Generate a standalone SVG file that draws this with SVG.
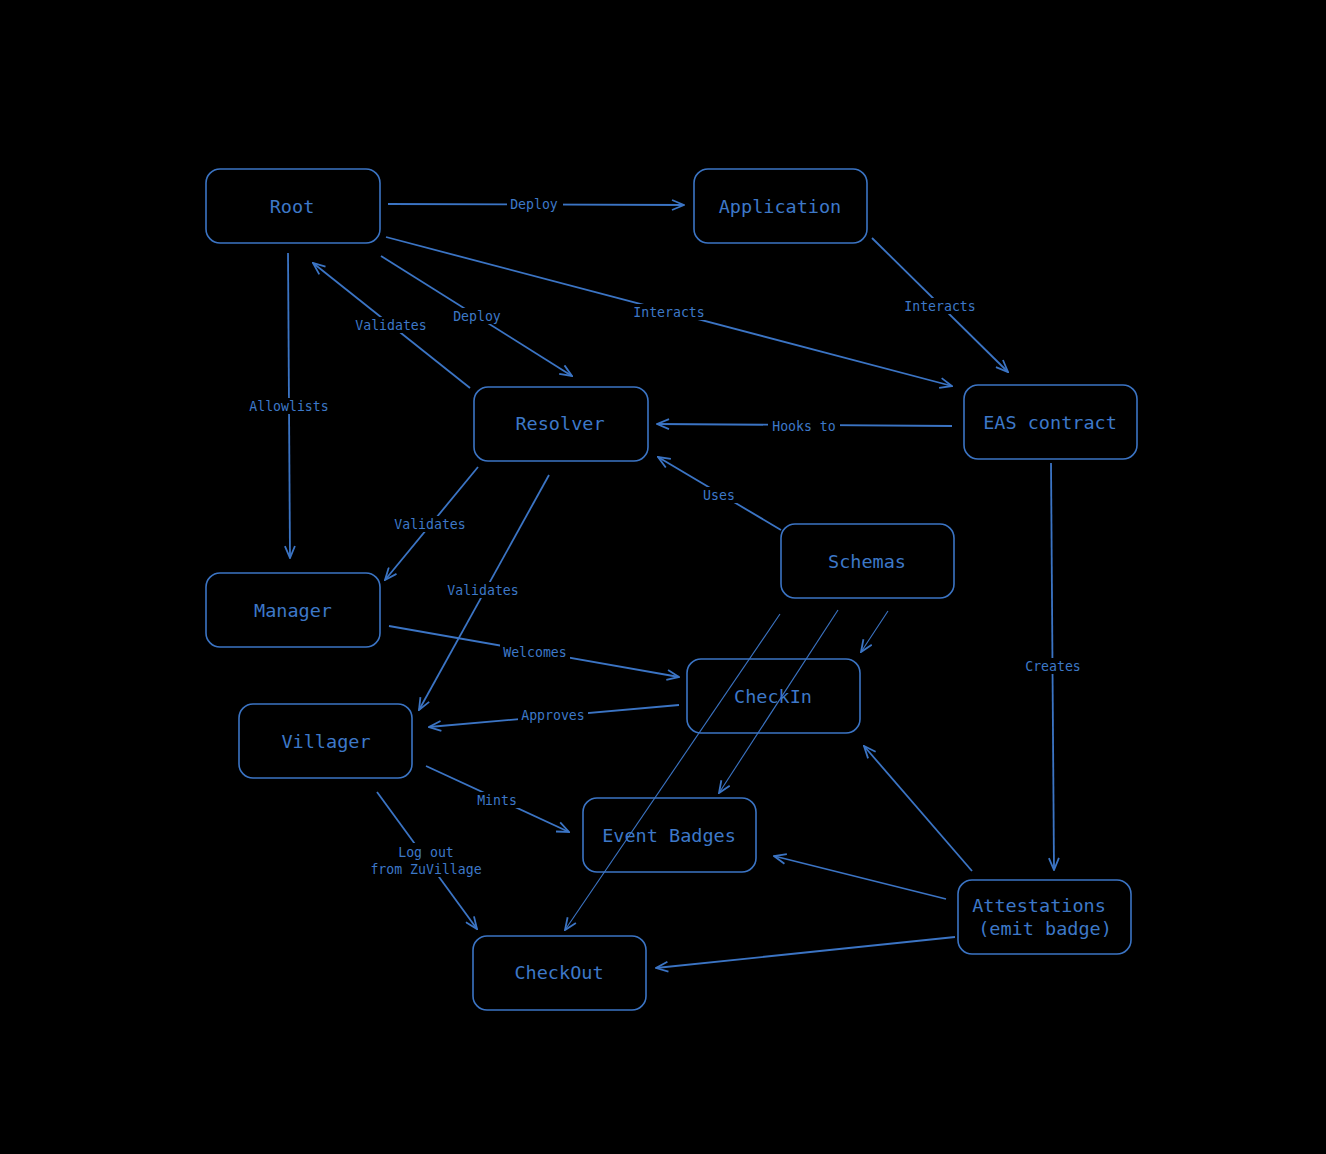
<svg xmlns="http://www.w3.org/2000/svg" width="1326" height="1154" viewBox="0 0 1326 1154">
<style>
.node rect{fill:#000;stroke:#3b74c4;stroke-width:1.6}
.node text{fill:#3d78c8;font-family:"DejaVu Sans Mono","Liberation Mono",monospace;font-size:18.5px;text-anchor:middle;dominant-baseline:central}
.c line{stroke:#3b74c4;stroke-width:1.8;fill:none}
.c line.thin{stroke-width:1.1}
.lb rect{fill:#000}
.lb text{fill:#3d78c8;font-family:"DejaVu Sans Mono","Liberation Mono",monospace;font-size:13.2px;text-anchor:middle;dominant-baseline:central}
</style>
<defs>
<marker id="ah" viewBox="0 0 14 12" markerWidth="14" markerHeight="12" refX="13" refY="6" orient="auto" markerUnits="userSpaceOnUse">
<path d="M1,1 L13,6 L1,11" fill="none" stroke="#3b74c4" stroke-width="1.8"/>
</marker>
</defs>
<rect width="1326" height="1154" fill="#000"/>
<g id="connectors" class="c">
<line x1="388" y1="204" x2="684" y2="205" marker-end="url(#ah)"/>
<line x1="386" y1="237" x2="952" y2="386" marker-end="url(#ah)"/>
<line x1="872" y1="238" x2="1008" y2="372" marker-end="url(#ah)"/>
<line x1="381" y1="256" x2="572" y2="376" marker-end="url(#ah)"/>
<line x1="470" y1="388" x2="313" y2="263" marker-end="url(#ah)"/>
<line x1="288" y1="253" x2="290" y2="558" marker-end="url(#ah)"/>
<line x1="952" y1="426" x2="657" y2="424" marker-end="url(#ah)"/>
<line x1="781" y1="530" x2="658" y2="457" marker-end="url(#ah)"/>
<line x1="478" y1="467" x2="385" y2="580" marker-end="url(#ah)"/>
<line x1="549" y1="475" x2="419" y2="710" marker-end="url(#ah)"/>
<line x1="389" y1="626" x2="679" y2="677" marker-end="url(#ah)"/>
<line x1="679" y1="705" x2="429" y2="727" marker-end="url(#ah)"/>
<line x1="1051" y1="463" x2="1054" y2="870" marker-end="url(#ah)"/>
<line class="thin" x1="888" y1="611" x2="861" y2="652" marker-end="url(#ah)"/>
<line class="thin" x1="838" y1="610" x2="719" y2="793" marker-end="url(#ah)"/>
<line class="thin" x1="780" y1="614" x2="565" y2="930" marker-end="url(#ah)"/>
<line x1="426" y1="766" x2="569" y2="832" marker-end="url(#ah)"/>
<line x1="377" y1="792" x2="477" y2="929" marker-end="url(#ah)"/>
<line x1="972" y1="871" x2="864" y2="746" marker-end="url(#ah)"/>
<line x1="946" y1="899" x2="774" y2="856" marker-end="url(#ah)"/>
<line x1="955" y1="937" x2="656" y2="968" marker-end="url(#ah)"/>
</g>
<g id="labels" class="lb">
<rect x="507" y="196" width="56" height="16"/><text x="534" y="204">Deploy</text>
<rect x="631" y="304" width="76" height="16"/><text x="669" y="312">Interacts</text>
<rect x="902" y="298" width="76" height="16"/><text x="940" y="306">Interacts</text>
<rect x="450" y="308" width="54" height="16"/><text x="477" y="316">Deploy</text>
<rect x="353" y="317" width="76" height="16"/><text x="391" y="325">Validates</text>
<rect x="247" y="398" width="84" height="16"/><text x="289" y="406">Allowlists</text>
<rect x="768" y="418" width="72" height="16"/><text x="804" y="426">Hooks to</text>
<rect x="700" y="487" width="38" height="16"/><text x="719" y="495">Uses</text>
<rect x="392" y="516" width="76" height="16"/><text x="430" y="524">Validates</text>
<rect x="445" y="582" width="76" height="16"/><text x="483" y="590">Validates</text>
<rect x="500" y="644" width="70" height="16"/><text x="535" y="652">Welcomes</text>
<rect x="518" y="707" width="70" height="16"/><text x="553" y="715">Approves</text>
<rect x="1023" y="658" width="60" height="16"/><text x="1053" y="666">Creates</text>
<rect x="474" y="792" width="46" height="16"/><text x="497" y="800">Mints</text>
<rect x="368" y="843" width="118" height="34"/><text x="426" y="852">Log out</text><text x="426" y="869">from ZuVillage</text>
</g>
<g id="root" class="node"><rect x="206" y="169" width="174" height="74" rx="14"/><text x="292" y="206.5">Root</text></g>
<g id="application" class="node"><rect x="694" y="169" width="173" height="74" rx="14"/><text x="780" y="206.5">Application</text></g>
<g id="resolver" class="node"><rect x="474" y="387" width="174" height="74" rx="14"/><text x="560" y="423.5">Resolver</text></g>
<g id="eas" class="node"><rect x="964" y="385" width="173" height="74" rx="14"/><text x="1050" y="422.5">EAS contract</text></g>
<g id="schemas" class="node"><rect x="781" y="524" width="173" height="74" rx="14"/><text x="867" y="561.5">Schemas</text></g>
<g id="manager" class="node"><rect x="206" y="573" width="174" height="74" rx="14"/><text x="293" y="610.5">Manager</text></g>
<g id="checkin" class="node"><rect x="687" y="659" width="173" height="74" rx="14" style="fill:none"/><text x="773" y="696.5">CheckIn</text></g>
<g id="villager" class="node"><rect x="239" y="704" width="173" height="74" rx="14"/><text x="326" y="741.5">Villager</text></g>
<g id="eventbadges" class="node"><rect x="583" y="798" width="173" height="74" rx="14" style="fill:none"/><text x="669" y="835.5">Event Badges</text></g>
<g id="attestations" class="node"><rect x="958" y="880" width="173" height="74" rx="14"/><text x="1039" y="905.5">Attestations</text><text x="1045" y="928.5">(emit badge)</text></g>
<g id="checkout" class="node"><rect x="473" y="936" width="173" height="74" rx="14"/><text x="559" y="972.5">CheckOut</text></g>
</svg>
